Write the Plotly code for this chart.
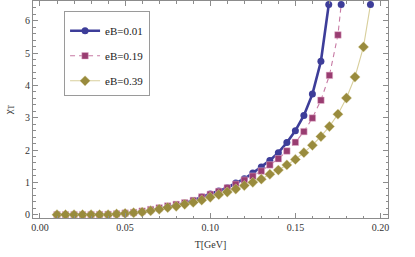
import plotly.graph_objects as go

T1 = [0.01, 0.015, 0.02, 0.025, 0.03, 0.035, 0.04, 0.045, 0.05, 0.055, 0.06, 0.065, 0.07, 0.075,
      0.08, 0.085, 0.09, 0.095, 0.10, 0.105, 0.11, 0.115, 0.12, 0.125, 0.13, 0.135, 0.14, 0.145,
      0.15, 0.155, 0.16, 0.165, 0.1696]
chi1 = [0.0, 0.0, 0.0, 0.0, 0.0, 0.005, 0.01, 0.02, 0.04, 0.06, 0.09, 0.13, 0.18, 0.23,
        0.29, 0.36, 0.44, 0.55, 0.64, 0.73, 0.835, 0.98, 1.11, 1.29, 1.475, 1.68, 1.92, 2.23,
        2.60, 3.07, 3.73, 4.745, 6.5]

T2 = [0.01, 0.015, 0.02, 0.025, 0.03, 0.035, 0.04, 0.045, 0.05, 0.055, 0.06, 0.065, 0.07, 0.075,
      0.08, 0.085, 0.09, 0.095, 0.10, 0.105, 0.11, 0.115, 0.12, 0.125, 0.13, 0.135, 0.14, 0.145,
      0.15, 0.155, 0.16, 0.165, 0.17, 0.175, 0.1769]
chi2 = [0.0, 0.0, 0.0, 0.0, 0.0, 0.005, 0.01, 0.025, 0.05, 0.07, 0.11, 0.16, 0.21, 0.27,
        0.32, 0.37, 0.44, 0.55, 0.63, 0.72, 0.83, 0.94, 1.07, 1.19, 1.35, 1.54, 1.73, 1.97,
        2.24, 2.57, 2.99, 3.54, 4.31, 5.56, 6.5]

T3 = [0.01, 0.015, 0.02, 0.025, 0.03, 0.035, 0.04, 0.045, 0.05, 0.055, 0.06, 0.065, 0.07, 0.075,
      0.08, 0.085, 0.09, 0.095, 0.10, 0.105, 0.11, 0.115, 0.12, 0.125, 0.13, 0.135, 0.14, 0.145,
      0.15, 0.155, 0.16, 0.165, 0.17, 0.175, 0.18, 0.185, 0.19, 0.1941]
chi3 = [0.0, 0.0, 0.0, 0.0, 0.0, 0.0, 0.0, 0.02, 0.04, 0.06, 0.08, 0.12, 0.17, 0.22,
        0.26, 0.32, 0.38, 0.45, 0.54, 0.62, 0.70, 0.795, 0.90, 1.0, 1.10, 1.25, 1.38, 1.54,
        1.71, 1.92, 2.15, 2.42, 2.73, 3.11, 3.61, 4.26, 5.19, 6.5]

names = ["eB=0.01", "eB=0.19", "eB=0.39"]

BLUE = "#3d3d99"
MAG = "#993d71"
OLV = "#998b3d"
SERIF = "Liberation Serif"

fig = go.Figure()

n2 = len(T2)
n3 = len(T3)

fig.add_trace(go.Scatter(
    x=T1, y=chi1, name=names[0], mode="lines+markers", legendgroup="a",
    line=dict(color=BLUE, width=2.6),
    marker=dict(symbol="circle", size=7, color=BLUE, opacity=1, line=dict(width=0)),
))
fig.add_trace(go.Scatter(
    x=T2, y=chi2, name=names[1], mode="lines+markers", legendgroup="b",
    line=dict(color="#c77aa4", width=1.1, dash="5px,4px"),
    marker=dict(symbol=["square"] * (n2 - 1) + ["circle"], size=[6.5] * (n2 - 1) + [7],
                color=[MAG] * (n2 - 1) + [BLUE], opacity=1,
                line=dict(width=[0.5] * (n2 - 1) + [0], color="#e8b8d0")),
))
fig.add_trace(go.Scatter(
    x=T3, y=chi3, name=names[2], mode="lines+markers", legendgroup="c",
    line=dict(color="#d8cf9c", width=1.1),
    marker=dict(symbol=["diamond"] * (n3 - 1) + ["circle"], size=[8] * (n3 - 1) + [7],
                color=[OLV] * (n3 - 1) + [BLUE], opacity=1,
                line=dict(width=[0.4] * (n3 - 1) + [0], color="#e0d8a8")),
))

axis_common = dict(
    showline=True, linecolor="#8c8c8c", linewidth=1, mirror="allticks",
    ticks="inside", tickcolor="#8c8c8c", ticklen=5, tickwidth=1,
    showgrid=False, zeroline=False,
    tickfont=dict(family=SERIF, size=10, color="#333333"),
)

fig.update_xaxes(
    range=[-0.0041, 0.2044], tickmode="array",
    tickvals=[0.0, 0.05, 0.10, 0.15, 0.20], ticktext=["0.00", "0.05", "0.10", "0.15", "0.20"],
    minor=dict(dtick=0.01, tick0=0, ticks="inside", ticklen=2.5, tickcolor="#8c8c8c"),
    title=dict(text="T[GeV]", font=dict(family=SERIF, size=10, color="#333333"), standoff=8),
    **axis_common,
)
fig.update_yaxes(
    range=[-0.102, 6.61], tickmode="array", tickvals=[0, 1, 2, 3, 4, 5, 6],
    minor=dict(dtick=0.2, tick0=0, ticks="inside", ticklen=2.5, tickcolor="#8c8c8c"),
    title=dict(text="χ<sub>T</sub>", font=dict(family=SERIF, size=11, color="#333333"), standoff=10),
    **axis_common,
)

fig.update_layout(
    width=415, height=257,
    margin=dict(l=33, r=27, t=1, b=39),
    paper_bgcolor="white", plot_bgcolor="white",
    showlegend=True,
    legend=dict(
        x=0.0875, y=0.952, xanchor="left", yanchor="top",
        bgcolor="white", bordercolor="#9a9a9a", borderwidth=1,
        font=dict(family=SERIF, size=11, color="#222222"),
        title=dict(text=" ", font=dict(family=SERIF, size=3)),
        tracegroupgap=6, itemwidth=30,
    ),
)

fig.write_html("out.html", config={"displayModeBar": False},
               post_script="document.body.style.margin='0px';")
